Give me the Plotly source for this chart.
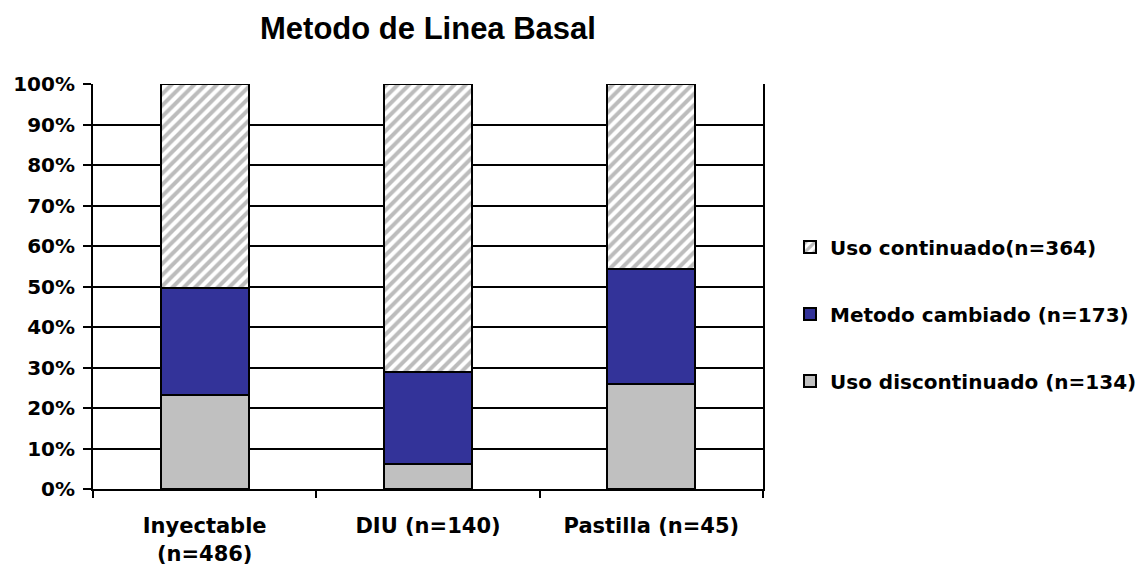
import plotly.graph_objects as go

categorias = ["Inyectable<br>(n=486)", "DIU (n=140)", "Pastilla (n=45)"]
uso_discontinuado = [0.232, 0.061, 0.259]
metodo_cambiado = [0.265, 0.229, 0.283]
uso_continuado = [0.503, 0.710, 0.458]

nombres = ["Uso discontinuado (n=134)", "Metodo cambiado (n=173)", "Uso continuado(n=364)"]

fig = go.Figure()

fig.add_trace(go.Bar(
    x=categorias, y=uso_discontinuado, name=nombres[0], legendgroup="a", legendrank=3,
    marker=dict(color="#C0C0C0", line=dict(color="black", width=2)),
))
fig.add_trace(go.Bar(
    x=categorias, y=metodo_cambiado, name=nombres[1], legendgroup="b", legendrank=2,
    marker=dict(color="#333399", line=dict(color="black", width=2)),
))
fig.add_trace(go.Bar(
    x=categorias, y=uso_continuado, name=nombres[2], legendgroup="c", legendrank=1,
    marker=dict(
        color="white",
        line=dict(color="black", width=2),
        pattern=dict(shape="/", fgcolor="#7a7a7a", bgcolor="white", size=8, solidity=0.5),
    ),
))

# the page body has an 8px margin, so the figure is a bit smaller and shifted
fig.update_layout(
    width=1138,
    height=565,
    barmode="stack",
    bargap=0.606,
    paper_bgcolor="white",
    plot_bgcolor="white",
    margin=dict(l=85, r=383, t=76, b=84, autoexpand=False),
    title=dict(
        text="Metodo de Linea Basal",
        x=(85 + 755) / 2 / 1138, xanchor="center",
        y=1 - 20 / 565, yanchor="middle",
        font=dict(family="Liberation Sans, Arial", size=31, color="black", weight="bold"),
    ),
    legend=dict(
        xref="container", yref="container",
        x=782 / 1138, xanchor="left",
        y=1 - 306 / 565, yanchor="middle",
        traceorder="grouped",
        tracegroupgap=38,
        font=dict(family="DejaVu Sans", size=20, color="black", weight="bold"),
        bgcolor="rgba(0,0,0,0)",
    ),
    showlegend=True,
)

fig.update_yaxes(
    range=[0, 1],
    dtick=0.1,
    tickformat=".0%",
    showgrid=True,
    gridcolor="black",
    gridwidth=2,
    showline=True,
    linecolor="black",
    linewidth=2,
    mirror=True,
    ticks="outside",
    ticklen=8,
    tickwidth=2,
    tickcolor="black",
    tickfont=dict(family="DejaVu Sans", size=20, color="black", weight="bold"),
    ticklabelstandoff=4,
    zeroline=False,
    automargin=False,
)

fig.update_xaxes(
    showline=True,
    linecolor="black",
    linewidth=2,
    ticks="outside",
    tickson="boundaries",
    ticklen=7,
    tickwidth=2,
    tickcolor="black",
    tickfont=dict(family="DejaVu Sans", size=21, color="black", weight="bold"),
    ticklabelstandoff=17,
    showgrid=False,
    automargin=False,
)

fig.write_html("out.html")
